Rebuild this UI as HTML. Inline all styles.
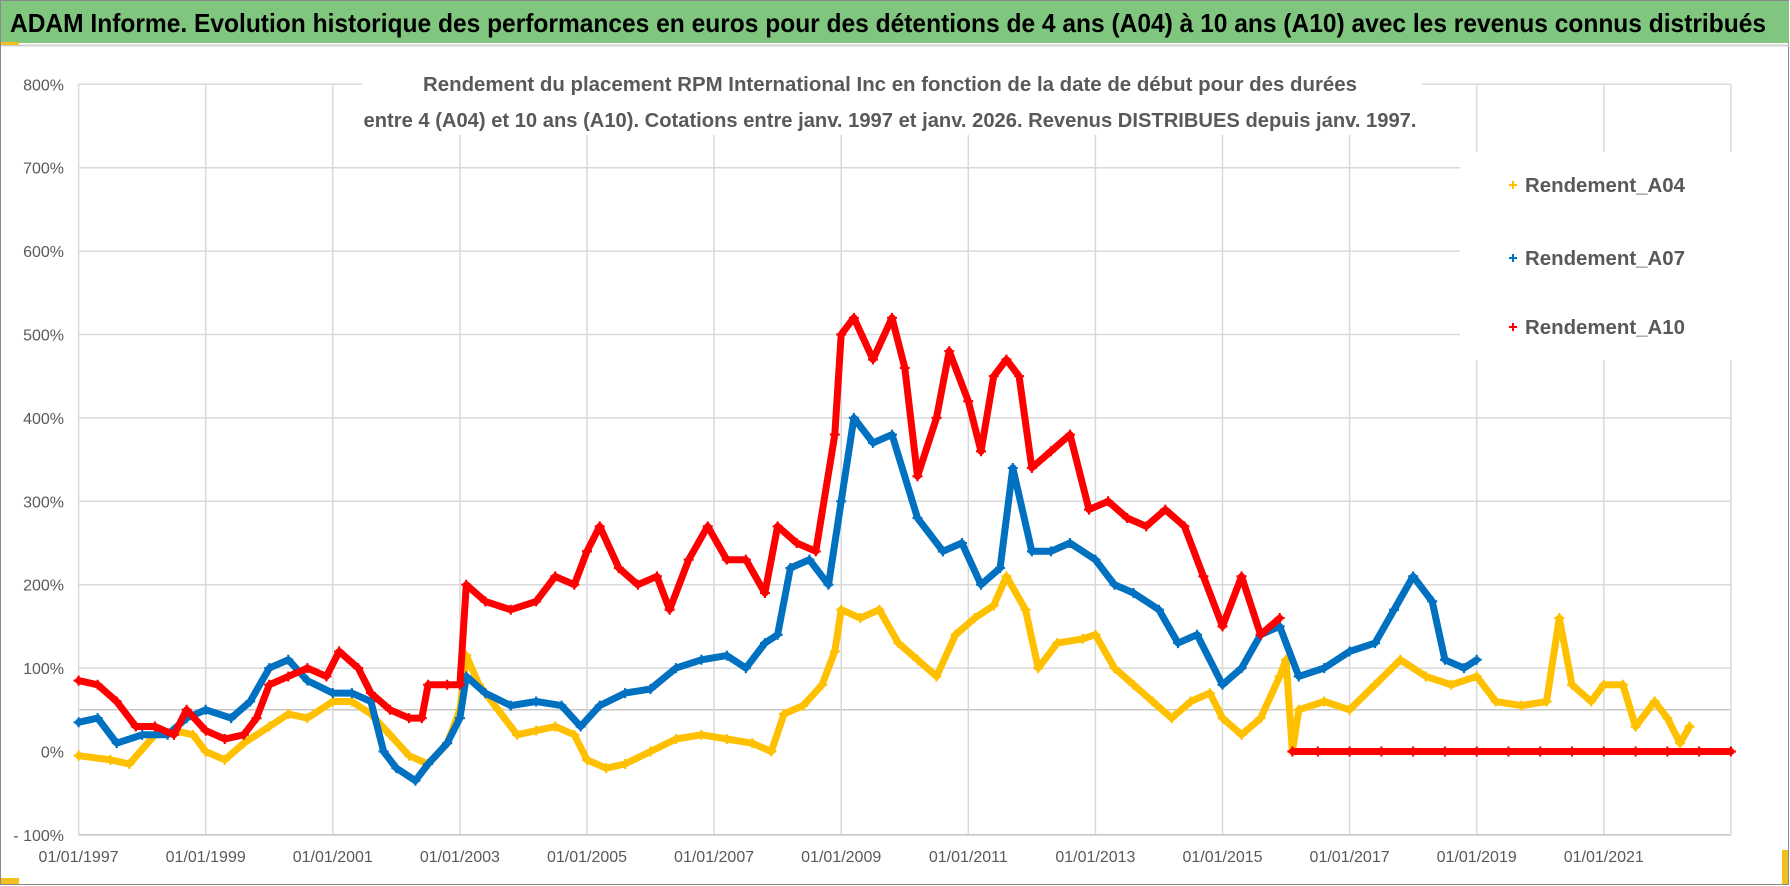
<!DOCTYPE html>
<html><head><meta charset="utf-8"><style>
html,body{margin:0;padding:0;background:#fff;}
svg{display:block;font-family:"Liberation Sans",sans-serif;}
</style></head><body>
<svg id="chart" width="1790" height="886" viewBox="0 0 1790 886" xmlns="http://www.w3.org/2000/svg">
<rect x="0.5" y="0.5" width="1788" height="884" fill="#fff" stroke="#8a8a8a"/>
<rect x="1" y="1" width="1788" height="42" fill="#80c67f"/>
<line x1="1" y1="45.5" x2="1789" y2="45.5" stroke="#d0d0d0" stroke-width="2"/>
<rect x="1" y="42" width="18" height="3" fill="#f2c01e"/>
<rect x="1" y="878" width="18" height="6" fill="#f2c01e"/>
<rect x="1782" y="850" width="6" height="34" fill="#f2c01e"/>
<text x="10" y="32" font-size="26" font-weight="bold" fill="#000" textLength="1756" lengthAdjust="spacingAndGlyphs">ADAM Informe. Evolution historique des performances en euros pour des détentions de 4 ans (A04) à 10 ans (A10) avec les revenus connus distribués</text>
<g id="grid"></g>
<g id="yaxis"></g>
<g id="xaxis"></g>
<rect x="362" y="68" width="1060" height="67" fill="#fff"/>
<text x="890" y="91" font-size="20" font-weight="bold" fill="#595959" text-anchor="middle" textLength="934" lengthAdjust="spacingAndGlyphs">Rendement du placement RPM International Inc en fonction de la date de début pour des durées</text>
<text x="890" y="127" font-size="20" font-weight="bold" fill="#595959" text-anchor="middle" textLength="1053" lengthAdjust="spacingAndGlyphs">entre 4 (A04) et 10 ans (A10).  Cotations entre janv. 1997 et janv. 2026. Revenus DISTRIBUES  depuis janv. 1997.</text>
<g id="series"></g>
<g id="legend">
<rect x="1460" y="152" width="298" height="208" fill="#fff"/>
</g>
</svg>
<script>
// ---- data (decimal year, percent) ----
const yearTicks = [1997,1999,2001,2003,2005,2007,2009,2011,2013,2015,2017,2019,2021,2023];
const yTicks = [-100,0,100,200,300,400,500,600,700,800];
const seriesNames = ["Rendement_A04","Rendement_A07","Rendement_A10"];
const a04Years = [1997.0,1997.5,1997.8,1998.2,1998.5,1998.8,1999.0,1999.3,1999.6,2000.0,2000.3,2000.6,2001.0,2001.3,2001.6,2001.9,2002.2,2002.5,2002.8,2003.0,2003.1,2003.3,2003.6,2003.9,2004.2,2004.5,2004.8,2005.0,2005.3,2005.6,2006.0,2006.4,2006.8,2007.2,2007.6,2007.9,2008.1,2008.4,2008.7,2008.9,2009.0,2009.3,2009.6,2009.9,2010.2,2010.5,2010.8,2011.1,2011.4,2011.6,2011.9,2012.1,2012.4,2012.8,2013.0,2013.3,2013.6,2013.9,2014.2,2014.5,2014.8,2015.0,2015.3,2015.6,2015.9,2016.0,2016.1,2016.2,2016.6,2017.0,2017.4,2017.8,2018.2,2018.6,2019.0,2019.3,2019.7,2020.1,2020.3,2020.5,2020.8,2021.0,2021.3,2021.5,2021.8,2022.0,2022.2,2022.35];
const a04Values = [-5,-10,-15,20,25,20,0,-10,10,30,45,40,60,60,45,20,-5,-15,10,50,115,80,50,20,25,30,20,-10,-20,-15,0,15,20,15,10,0,45,55,80,120,170,160,170,130,110,90,140,160,175,210,170,100,130,135,140,100,80,60,40,60,70,40,20,40,90,110,0,50,60,50,80,110,90,80,90,60,55,60,160,80,60,80,80,30,60,40,10,30];
const a07Years = [1997.0,1997.3,1997.6,1998.0,1998.4,1998.7,1999.0,1999.4,1999.7,2000.0,2000.3,2000.6,2001.0,2001.3,2001.6,2001.8,2002.0,2002.3,2002.5,2002.8,2003.0,2003.1,2003.4,2003.8,2004.2,2004.6,2004.9,2005.2,2005.6,2006.0,2006.4,2006.8,2007.2,2007.5,2007.8,2008.0,2008.2,2008.5,2008.8,2009.0,2009.2,2009.5,2009.8,2010.2,2010.6,2010.9,2011.2,2011.5,2011.7,2012.0,2012.3,2012.6,2013.0,2013.3,2013.6,2014.0,2014.3,2014.6,2015.0,2015.3,2015.6,2015.9,2016.2,2016.6,2017.0,2017.4,2017.7,2018.0,2018.3,2018.5,2018.8,2019.0];
const a07Values = [35,40,10,20,20,40,50,40,60,100,110,85,70,70,60,0,-20,-35,-15,10,40,90,70,55,60,55,30,55,70,75,100,110,115,100,130,140,220,230,200,300,400,370,380,280,240,250,200,220,340,240,240,250,230,200,190,170,130,140,80,100,140,150,90,100,120,130,170,210,180,110,100,110];
const a10Years = [1997.0,1997.3,1997.6,1997.9,1998.2,1998.5,1998.7,1999.0,1999.3,1999.6,1999.8,2000.0,2000.3,2000.6,2000.9,2001.1,2001.4,2001.6,2001.9,2002.2,2002.4,2002.5,2002.8,2003.0,2003.1,2003.4,2003.8,2004.2,2004.5,2004.8,2005.0,2005.2,2005.5,2005.8,2006.1,2006.3,2006.6,2006.9,2007.2,2007.5,2007.8,2008.0,2008.3,2008.6,2008.9,2009.0,2009.2,2009.5,2009.8,2010.0,2010.2,2010.5,2010.7,2011.0,2011.2,2011.4,2011.6,2011.8,2012.0,2012.3,2012.6,2012.9,2013.2,2013.5,2013.8,2014.1,2014.4,2014.7,2015.0,2015.3,2015.6,2015.9];
const a10Values = [85,80,60,30,30,20,50,25,15,20,40,80,90,100,90,120,100,70,50,40,40,80,80,80,200,180,170,180,210,200,240,270,220,200,210,170,230,270,230,230,190,270,250,240,380,500,520,470,520,460,330,400,480,420,360,450,470,450,340,360,380,290,300,280,270,290,270,210,150,210,140,160];
const a10ZeroYears = [2016.1,2016.5,2017.0,2017.5,2018.0,2018.5,2019.0,2019.5,2020.0,2020.5,2021.0,2021.5,2022.0,2022.5,2023.0];
const a10ZeroValues = [0,0,0,0,0,0,0,0,0,0,0,0,0,0,0];

// ---- axes ----
const X0 = 78.6, PXY = 63.55, Y0 = 751.5, PXP = 0.834;
function xs(t){ return X0 + (t - 1997) * PXY; }
function ys(v){ return Y0 - v * PXP; }
const NS = "http://www.w3.org/2000/svg";
function mk(tag, attrs, parent){ const e = document.createElementNS(NS, tag); for (const k in attrs) e.setAttribute(k, attrs[k]); parent.appendChild(e); return e; }

const grid = document.getElementById('grid');
const yaxis = document.getElementById('yaxis');
const xaxis = document.getElementById('xaxis');
yTicks.forEach(v => {
  if (v !== 0) {
    const l = mk('line', {x1: xs(1997), x2: xs(2023), y1: ys(v), y2: ys(v), stroke: '#d9d9d9', 'stroke-width': 1.5}, grid);
    
    
  }
  const t = mk('text', {x: 64, y: ys(v) + 6, 'font-size': 16, fill: '#595959', 'text-anchor': 'end'}, yaxis);
  t.textContent = (v < 0 ? '- ' + Math.abs(v) : v) + '%';
  
  
});
const ref = mk('line', {x1: xs(1997), x2: xs(2023), y1: ys(50), y2: ys(50), stroke: '#c8c8c8', 'stroke-width': 1.5}, grid);


yearTicks.forEach((yr, i) => {
  const l = mk('line', {x1: xs(yr), x2: xs(yr), y1: ys(800), y2: ys(-100), stroke: '#d9d9d9', 'stroke-width': 1.5}, grid);
  
  
  if (i < yearTicks.length - 1) {
    const t = mk('text', {x: xs(yr), y: 862, 'font-size': 16, fill: '#595959', 'text-anchor': 'middle'}, xaxis);
    t.textContent = '01/01/' + yr;
    
    
  }
});
const base = mk('line', {x1: xs(1997), x2: xs(2023), y1: ys(-100), y2: ys(-100), stroke: '#d0d0d0', 'stroke-width': 2}, grid);



// ---- series ----
const layer = document.getElementById('series');
function drawSeries(years, vals, color, name){
  const g = mk('g', {}, layer);
  
  
  const pts = years.map((t, i) => xs(t).toFixed(1) + ',' + ys(vals[i]).toFixed(1)).join(' ');
  const pl = mk('polyline', {points: pts, fill: 'none', stroke: color, 'stroke-width': 7, 'stroke-linejoin': 'round', 'stroke-linecap': 'round'}, g);
  
  
  years.forEach((t, i) => {
    const x = xs(t), y = ys(vals[i]);
    const p = mk('path', {d: `M${x-5},${y}H${x+5}M${x},${y-5}V${y+5}`, stroke: color, 'stroke-width': 2.2}, g);
    
    
  });
}
drawSeries(a04Years, a04Values, '#ffc000', 'series-a04');
drawSeries(a07Years, a07Values, '#0070c0', 'series-a07');
drawSeries(a10Years, a10Values, '#ff0000', 'series-a10');
drawSeries(a10ZeroYears, a10ZeroValues, '#ff0000', 'series-a10-zero');

// ---- legend ----
const legend = document.getElementById('legend');
const legColors = ['#ffc000', '#0070c0', '#ff0000'];
const legY = [185, 258, 327];
seriesNames.forEach((n, i) => {
  const g = mk('g', {}, legend);
  
  
  const x = 1513, y = legY[i];
  mk('path', {d: `M${x-4},${y}H${x+4}M${x},${y-4}V${y+4}`, stroke: legColors[i], 'stroke-width': 2}, g);
  const t = mk('text', {x: 1525, y: y + 7, 'font-size': 20, 'font-weight': 'bold', fill: '#595959', textLength: 160, lengthAdjust: 'spacingAndGlyphs'}, g);
  t.textContent = n;
});
</script>
</body></html>
